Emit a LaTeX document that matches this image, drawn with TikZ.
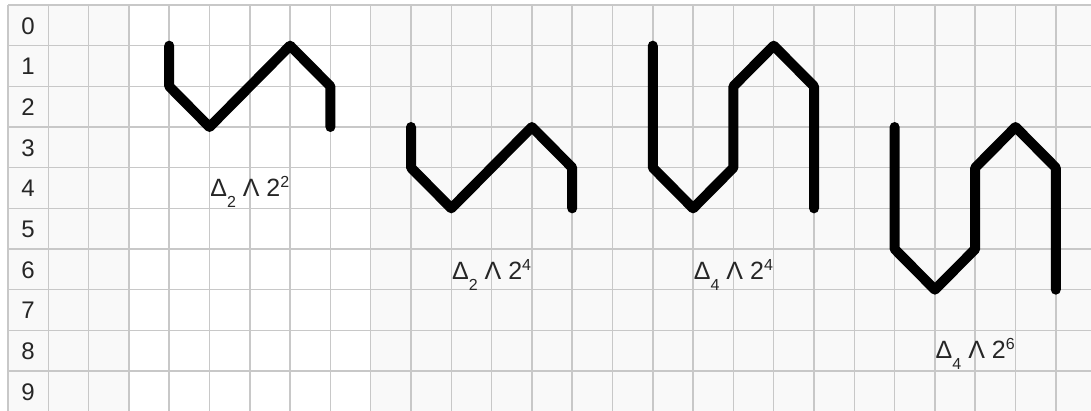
\documentclass[tikz,border=0pt]{standalone}
\usepackage{fontspec}
\setmainfont{Liberation Sans}
\definecolor{gridline}{HTML}{C8C8C8}
\definecolor{cellbg}{HTML}{F9F9F9}
\definecolor{txt}{HTML}{262626}
\newcommand{\lowsub}[1]{\raisebox{-11pt}{\fontsize{16}{16}\selectfont #1}}
\newcommand{\highsup}[1]{\raisebox{9pt}{\fontsize{16}{16}\selectfont #1}}
\tikzset{
  wave/.style={line width=10pt, line cap=round, line join=round, black},
  rownum/.style={anchor=base, text=txt, font=\fontsize{24}{24}\selectfont, inner sep=0pt},
  formula/.style={anchor=base, text=txt, font=\fontsize{25}{25}\selectfont, inner sep=0pt},
  gridrule/.style={gridline, line width=1.5pt}
}
\begin{document}
\begin{tikzpicture}[x=1pt,y=1pt]
\useasboundingbox (0,0) rectangle (1091,410);
\clip (0,0) rectangle (1091,410);
\fill[white] (0,0) rectangle (1091,410);
\begin{scope}[shift={(8,405)}, x=40.3pt, y=-40.67pt]
  \fill[cellbg] (0,0) rectangle (27.5,10.5);
  \fill[white] (3,0) rectangle (9,10.5);
  \foreach \k in {0,...,27} { \draw[gridrule] (\k,0) -- (\k,10.5); }
  \foreach \j in {0,...,10} { \draw[gridrule] (0,\j) -- (27.5,\j); }
  \foreach \j in {0,...,9} { \node[rownum] (r\j) at (0.5,\j+0.72) {\j}; }
  \draw[wave] (4,1)--(4,2)--(5,3)--(7,1)--(8,2)--(8,3);
  \draw[wave] (10,3)--(10,4)--(11,5)--(13,3)--(14,4)--(14,5);
  \draw[wave] (16,1)--(16,4)--(17,5)--(18,4)--(18,2)--(19,1)--(20,2)--(20,5);
  \draw[wave] (22,3)--(22,6)--(23,7)--(24,6)--(24,4)--(25,3)--(26,4)--(26,7);
  \node[formula] (f1) at (6,4.72) {Δ\lowsub{2} Λ 2\highsup{2}};
  \node[formula] (f2) at (12,6.74) {Δ\lowsub{2} Λ 2\highsup{4}};
  \node[formula] (f3) at (18,6.74) {Δ\lowsub{4} Λ 2\highsup{4}};
  \node[formula] (f4) at (24,8.70) {Δ\lowsub{4} Λ 2\highsup{6}};
\end{scope}
\end{tikzpicture}
\end{document}
